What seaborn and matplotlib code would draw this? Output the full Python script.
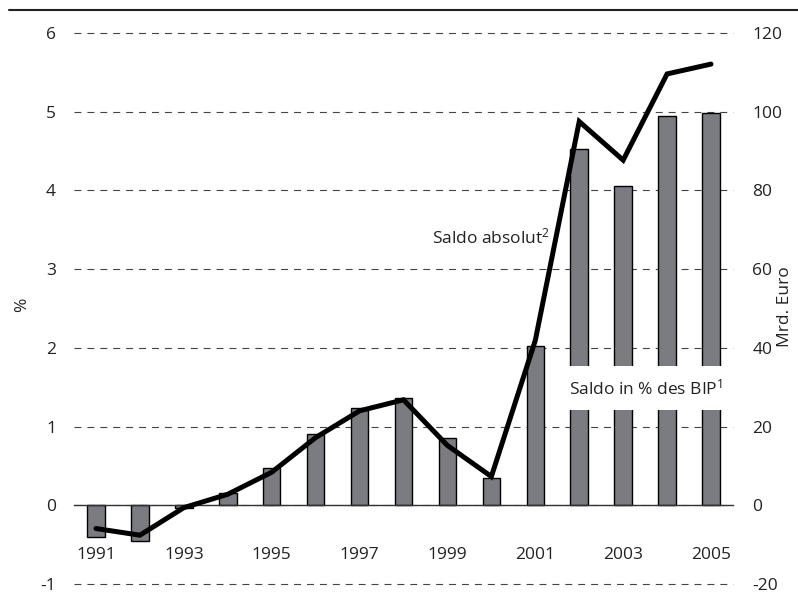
import numpy as np
import pandas as pd
import matplotlib
matplotlib.use("Agg")
import matplotlib.pyplot as plt
from matplotlib.lines import Line2D
import seaborn as sns

# ---- data ----
years = [str(y) for y in range(1991, 2006)]
saldo_pct = [-0.40, -0.46, -0.03, 0.15, 0.47, 0.90, 1.24, 1.36, 0.86, 0.35,
             2.02, 4.53, 4.05, 4.94, 4.99]
saldo_abs = [-5.9, -7.6, -0.6, 2.8, 8.4, 17.2, 24.0, 26.8, 15.2, 7.3,
             41.9, 97.5, 87.7, 109.6, 112.1]
left_ticks = [-1, 0, 1, 2, 3, 4, 5, 6]
right_ticks = [-20, 0, 20, 40, 60, 80, 100, 120]

df = pd.DataFrame({"year": years, "pct": saldo_pct, "abs": saldo_abs})

sns.set_style("white")
plt.rcParams["font.family"] = ["Open Sans", "DejaVu Sans"]
plt.rcParams["mathtext.fontset"] = "custom"
plt.rcParams["mathtext.rm"] = "Open Sans"
plt.rcParams["mathtext.it"] = "Open Sans"
plt.rcParams["mathtext.default"] = "rm"
plt.rcParams["lines.scale_dashes"] = False

W, H = 798, 610
fig = plt.figure(figsize=(W / 100, H / 100), dpi=100)
ax = fig.add_axes([74 / W, 1 - 584 / H, (733 - 74) / W, (584 - 33) / H])

txt_col = "#222222"
fs = 12.5

sns.barplot(data=df, x="year", y="pct", color="#7b7c81", saturation=1,
            edgecolor="black", linewidth=1.0, width=0.4, ax=ax, zorder=2)

ax.set_xlim(-0.5, len(years) - 0.5)
ax.set_ylim(left_ticks[0], left_ticks[-1])
ax.set_axisbelow(True)

for s in ["top", "right", "left"]:
    ax.spines[s].set_visible(False)
ax.spines["bottom"].set_position(("data", 0))
ax.spines["bottom"].set_color("#333333")
ax.spines["bottom"].set_linewidth(1.0)
ax.spines["bottom"].set_zorder(3)

# gridlines
ax.set_yticks(left_ticks)
ax.set_yticklabels([str(t) for t in left_ticks], fontsize=fs, color=txt_col)
ax.tick_params(axis="y", length=0, pad=13)
ax.grid(axis="y", color="#444444", linewidth=0.8, linestyle=(0, (5.0, 4.3)))
ax.grid(axis="x", visible=False)
for gl in ax.get_ygridlines():
    gl.set_clip_on(False)

# x ticks: boundaries as major ticks, labels at odd-year centres
pos = np.arange(len(years))
ax.set_xticks(np.append(pos - 0.5, pos[-1] + 0.5))
ax.set_xticklabels([""] * (len(years) + 1))
ax.set_xticks(pos[::2], minor=True)
ax.set_xticklabels(years[::2], minor=True, fontsize=fs, color=txt_col)
ax.tick_params(axis="x", which="major", direction="inout", length=12,
               width=1.0, color="#333333")
ax.tick_params(axis="x", which="minor", length=0, pad=30)
ax.set_xlabel("")
ax.set_ylabel("")

# line on right axis
ax2 = ax.twinx()
sns.lineplot(x=pos, y=df["abs"], color="black", linewidth=3.6, ax=ax2,
             solid_capstyle="round", solid_joinstyle="miter", zorder=4)
ax2.set_ylim(right_ticks[0], right_ticks[-1])
ax2.set_yticks(right_ticks)
ax2.set_yticklabels([str(t) for t in right_ticks], fontsize=fs, color=txt_col)
ax2.tick_params(axis="y", length=0, pad=14)
for s in ["top", "right", "left", "bottom"]:
    ax2.spines[s].set_visible(False)
ax2.grid(False)
ax2.set_ylabel("")
ax2.set_xlim(-0.5, len(years) - 0.5)

fig.text(22 / W, 1 - 305 / H, "%", rotation=90, ha="center", va="center",
         fontsize=fs, color=txt_col)
fig.text(785 / W, 1 - 307 / H, "Mrd. Euro", rotation=90, ha="center",
         va="center", fontsize=fs, color=txt_col)

ax.text(10.34, 3.40, r"Saldo absolut$^{2}$", ha="right", va="center",
        fontsize=fs, color=txt_col, zorder=5)
ax.text(10.77, 1.49, r"Saldo in % des BIP$^{1}$", ha="left", va="center",
        fontsize=fs, color=txt_col, zorder=5,
        bbox=dict(boxstyle="square,pad=0.7", facecolor="white",
                  edgecolor="none"))

fig.add_artist(Line2D([9 / W, 1.0], [1 - 9.5 / H, 1 - 9.5 / H],
                      color="#222222", linewidth=1.5))

fig.savefig("out.png", dpi=100)
